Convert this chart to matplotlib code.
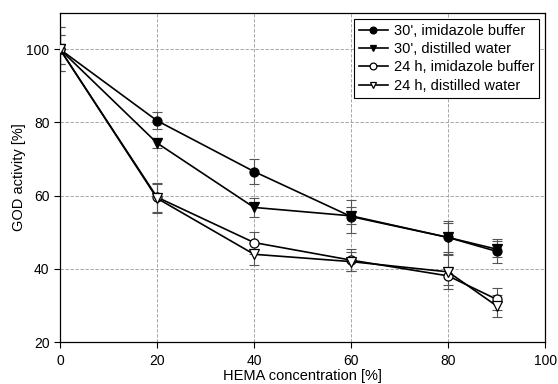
"""
GOD activity vs HEMA concentration
"""

import numpy as np
import matplotlib
matplotlib.use('Agg')
from matplotlib import pyplot as plt

plt.rcParams['font.family'] = ['Liberation Sans', 'DejaVu Sans']

hema = [0, 20, 40, 60, 80, 90]

# 30', imidazole buffer
act_30_imid = [100, 80.5, 66.6, 54.3, 48.6, 44.8]
err_30_imid = [6.0, 2.3, 3.5, 4.5, 4.5, 3.3]
# 30', distilled water
act_30_water = [100, 74.4, 56.8, 54.5, 48.6, 45.4]
err_30_water = [4.0, 1.5, 2.5, 2.3, 4.0, 2.2]
# 24 h, imidazole buffer
act_24_imid = [100, 59.6, 47.2, 42.4, 38.1, 31.7]
err_24_imid = [4.0, 4.0, 3.0, 3.0, 2.5, 3.0]
# 24 h, distilled water
act_24_water = [100, 59.3, 44.0, 42.0, 39.2, 29.9]
err_24_water = [6.0, 4.0, 3.0, 2.5, 4.7, 3.0]

labels = ["30', imidazole buffer", "30', distilled water",
          "24 h, imidazole buffer", "24 h, distilled water"]

fig = plt.figure(figsize=(5.58, 3.84), dpi=100)
ax = fig.add_axes([0.1075, 0.109, 0.8695, 0.858])

series = [
    (act_30_imid, err_30_imid, 'o', 'black'),
    (act_30_water, err_30_water, 'v', 'black'),
    (act_24_imid, err_24_imid, 'o', 'white'),
    (act_24_water, err_24_water, 'v', 'white'),
]
for (vals, errs, mk, fc), lab in zip(series, labels):
    ax.errorbar(hema, vals, yerr=errs, fmt='none', ecolor='#555555',
                elinewidth=0.8, capsize=3.5, capthick=0.8, zorder=2)
    ax.plot(hema, vals, color='black', lw=1.2, marker=mk, markersize=6.5,
            markerfacecolor=fc, markeredgecolor='black', markeredgewidth=0.9,
            label=lab, zorder=3)

ax.set_xlim(0, 100)
ax.set_ylim(20, 110)
ax.set_xticks(np.arange(0, 101, 20))
ax.set_yticks(np.arange(20, 101, 20))
ax.tick_params(labelsize=10, length=4, width=0.8, direction='out')
ax.tick_params(axis='x', pad=4.5)
ax.grid(True, color='#999999', linestyle=(0, (4, 2)), linewidth=0.6)
ax.set_axisbelow(True)
for sp in ax.spines.values():
    sp.set_linewidth(0.9)

ax.set_xlabel('HEMA concentration [%]', fontsize=10.5, labelpad=0.5)
ax.set_ylabel('GOD activity [%]', fontsize=10.5, labelpad=0.5)

leg = ax.legend(loc='upper right', fontsize=10.5, frameon=True, fancybox=False,
                edgecolor='black', framealpha=1, borderpad=0.35,
                labelspacing=0.3, handlelength=2.0, handletextpad=0.4,
                borderaxespad=0.4, markerscale=0.75)
leg.get_frame().set_linewidth(0.8)

fig.savefig('out.png', dpi=100)
